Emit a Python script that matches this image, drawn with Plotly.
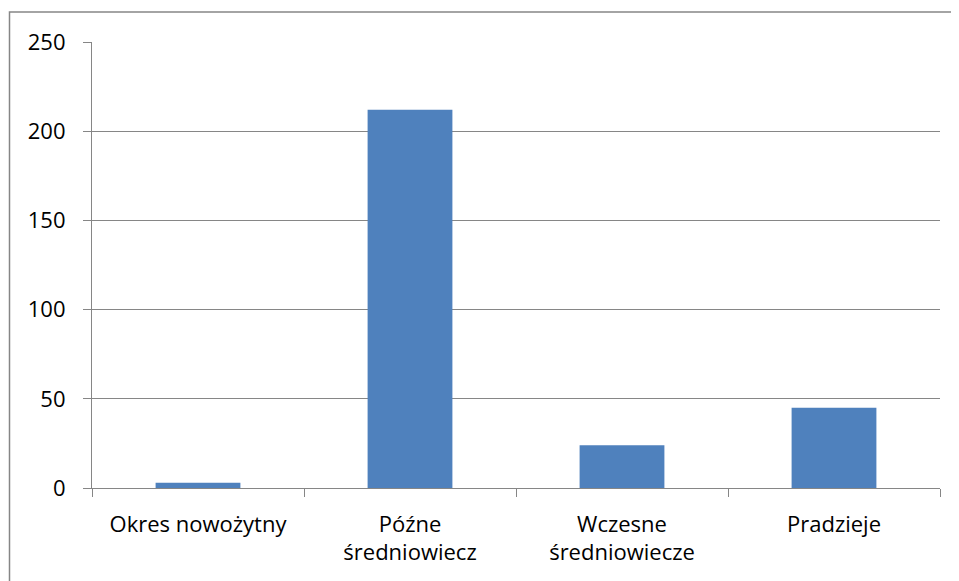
import plotly.graph_objects as go

categories = ["Okres nowożytny", "Późne<br>średniowiecz", "Wczesne<br>średniowiecze", "Pradzieje"]
values = [3, 212, 24, 45]
y_ticks = [0, 50, 100, 150, 200, 250]

OFF = 8  # default page body margin
W, H = 959, 581
L, R, T, B = 92 - OFF, 19 + OFF, 41.5 - OFF, 93 + OFF
pw, ph = W - L - R, H - T - B

fig = go.Figure(go.Bar(x=categories, y=values, marker=dict(color="#4F81BD", line=dict(width=0)), width=0.4))

grid = "#868686"
fig.update_layout(
    width=W, height=H,
    margin=dict(l=L, r=R, t=T, b=B),
    plot_bgcolor="white", paper_bgcolor="white",
    font=dict(family="Open Sans", size=22, color="black"),
    showlegend=False,
    bargap=0.6,
    xaxis=dict(type="category", showline=True, linecolor=grid, linewidth=1.2,
               ticks="outside", tickson="boundaries", ticklen=8, tickcolor=grid,
               showgrid=False, range=[-0.5, 3.5], ticklabelstandoff=16),
    yaxis=dict(range=[0, 250], tickvals=y_ticks, showline=True, linecolor=grid, linewidth=1.2,
               ticks="outside", ticklen=8, tickcolor=grid, showgrid=True, gridcolor=grid,
               gridwidth=1.2, zeroline=False, ticklabelstandoff=13),
)
# outer chart frame
fig.add_shape(type="rect", xref="paper", yref="paper",
              x0=(9.5 - OFF - L) / pw, x1=(W + 20 - L) / pw,
              y0=-(H + 20 - T - ph) / ph, y1=(ph + T - (11.5 - OFF)) / ph,
              line=dict(color=grid, width=1.5), fillcolor="rgba(0,0,0,0)", layer="below")
fig.write_html("out.html")
